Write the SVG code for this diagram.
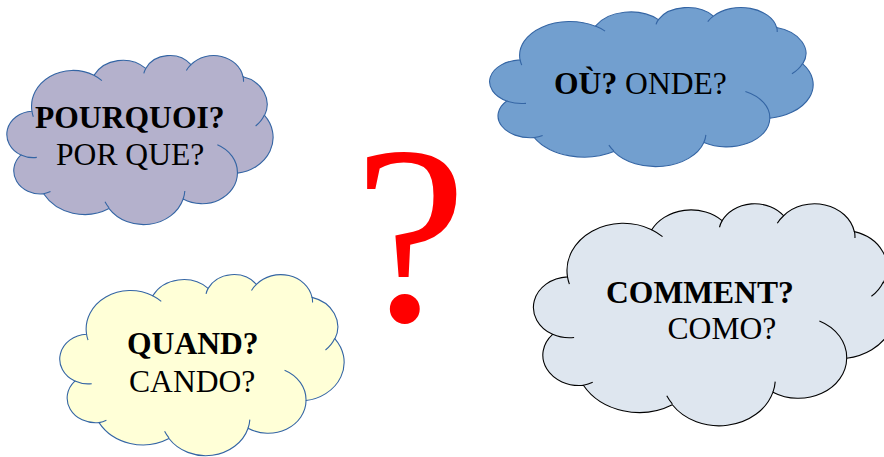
<svg xmlns="http://www.w3.org/2000/svg" xmlns:xlink="http://www.w3.org/1999/xlink" width="884" height="457" viewBox="0 0 884 457">
<style>
.outline{vector-effect:non-scaling-stroke;stroke-width:1.1}
.inner{vector-effect:non-scaling-stroke;stroke-width:1.1;fill:none}
.lbl{font-family:"Liberation Serif","Times New Roman",serif;font-size:31.6px;fill:#000}
.b{font-weight:bold}
.blueline{stroke:#3465a4}
.blackline{stroke:#000}
</style>
<defs>
<path id="cloudOutline" class="outline" d="M3900,14370 A6753,9190 0 0 1 14006,5203 A5333,7267 0 0 1 22457,3432 A4365,5945 0 0 1 29835,2480 A4857,6595 0 0 1 38319,5577 A5333,7273 0 0 1 41819,15461 A6775,9220 0 0 1 37405,30204 A5785,7867 0 0 1 28557,36814 A6752,9215 0 0 1 16481,39265 A7720,10543 0 0 1 5806,35474 A4360,5918 0 0 1 2114,25554 A4345,5945 0 0 1 3900,14370 Z"/>
<path id="cloudInner" class="inner" d="M4693,26177 A4345,5945 0 0 1 2114,25554 M6928,34899 A4360,5918 0 0 1 5806,35474 M16478,39090 A6752,9215 0 0 1 15814,37525 M28827,34751 A6752,9215 0 0 1 28557,36814 M34129,22954 A5785,7867 0 0 1 37405,30204 M41798,15354 A5333,7273 0 0 1 40371,18136 M38324,5426 A4857,6595 0 0 1 38395,6816 M29078,3952 A4857,6595 0 0 1 29835,2480 M22141,4720 A4365,5945 0 0 1 22457,3432 M14000,5192 A6753,9190 0 0 1 15305,6551 M4127,15789 A6753,9190 0 0 1 3900,14370"/>
</defs>

<g id="node-pourquoi">
<g transform="translate(8,55) scale(0.006134,0.003912)" class="blueline">
<use xlink:href="#cloudOutline" href="#cloudOutline" fill="#b4b1cc"/>
<use xlink:href="#cloudInner" href="#cloudInner"/>
</g>
<text class="lbl b" x="35" y="128">POURQUOI?</text>
<text class="lbl" x="56" y="165">POR QUE?</text>
</g>

<g id="node-ou">
<g transform="translate(491,7) scale(0.007454,0.003681)" class="blueline">
<use xlink:href="#cloudOutline" href="#cloudOutline" fill="#729fcf"/>
<use xlink:href="#cloudInner" href="#cloudInner"/>
</g>
<text class="lbl" x="554" y="94"><tspan class="b">OÙ?</tspan> ONDE?</text>
</g>

<g id="node-comment">
<g transform="translate(535,203) scale(0.008333,0.005139)" class="blackline">
<use xlink:href="#cloudOutline" href="#cloudOutline" fill="#dee6ef"/>
<use xlink:href="#cloudInner" href="#cloudInner"/>
</g>
<text class="lbl b" x="606" y="302.5">COMMENT?</text>
<text class="lbl" x="667.5" y="339">COMO?</text>
</g>

<g id="node-quand">
<g transform="translate(61,274) scale(0.006551,0.00419)" class="blueline">
<use xlink:href="#cloudOutline" href="#cloudOutline" fill="#ffffd7"/>
<use xlink:href="#cloudInner" href="#cloudInner"/>
</g>
<text class="lbl b" x="127" y="354">QUAND?</text>
<text class="lbl" x="129" y="391.5">CANDO?</text>
</g>

<g id="node-question">
<text x="354" y="320" style="font-family:'Liberation Serif','Times New Roman',serif;font-size:254px;fill:#ff0000">?</text>
</g>

<g id="connectors"></g>
</svg>
